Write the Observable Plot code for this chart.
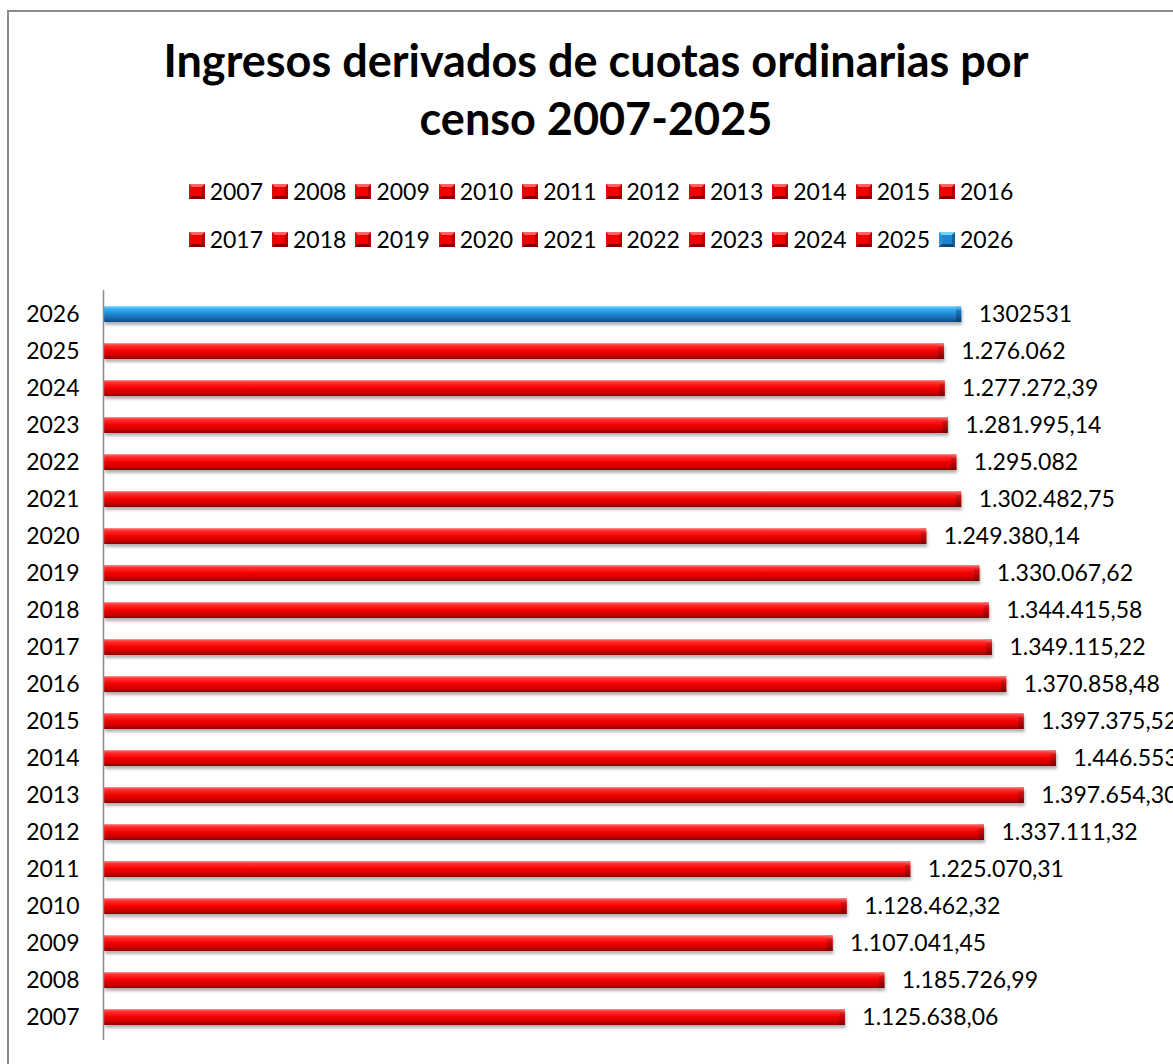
<!DOCTYPE html>
<html><head><meta charset="utf-8">
<script src="https://cdn.jsdelivr.net/npm/d3@7"></script>
<script src="https://cdn.jsdelivr.net/npm/@observablehq/plot@0.6"></script>
<style>
html,body{margin:0;padding:0;background:#fff;overflow:hidden;}
#page{position:relative;width:1173px;height:1064px;overflow:hidden;font-family:Lato, "Open Sans", sans-serif;color:#000;}
#frame{position:absolute;left:7px;top:10px;width:1400px;height:1300px;border:2px solid #8a8a8a;box-sizing:border-box;pointer-events:none;}
#title{position:absolute;left:7px;width:1178px;top:31px;text-align:center;font-weight:700;font-size:45px;line-height:58px;}
#legend{position:absolute;left:17px;width:1168px;top:167px;font-size:23px;line-height:48px;}
.row{display:flex;justify-content:center;align-items:baseline;gap:9px;height:48px;white-space:nowrap;}
.item{display:block;line-height:48px;}
.sw{display:inline-block;width:16px;height:15px;box-sizing:border-box;margin:0 5px 1px 0;vertical-align:baseline;border-style:solid;border-width:3px;}
.sw.red{background:#f20000;border-color:#ff6363 #b40000 #8a0000 #dc0a0a;}
.sw.blue{background:#1d86cf;border-color:#72d2ff #165f9c #0f4a7c #2a95d8;}
#chart{position:absolute;left:0;top:270px;}
</style>
</head>
<body>
<div id="page">
  <div id="title">Ingresos derivados de cuotas ordinarias por<br>censo 2007-2025</div>
  <div id="legend"></div>
  <div id="chart"></div>
  <div id="frame"></div>
</div>
<script>
// ---- data ----
const years = [2007, 2008, 2009, 2010, 2011, 2012, 2013, 2014, 2015, 2016, 2017, 2018, 2019, 2020, 2021, 2022, 2023, 2024, 2025, 2026];
const values = [1125638.06, 1185726.99, 1107041.45, 1128462.32, 1225070.31, 1337111.32, 1397654.30, 1446553, 1397375.52, 1370858.48, 1349115.22, 1344415.58, 1330067.62, 1249380.14, 1302482.75, 1295082, 1281995.14, 1277272.39, 1276062, 1302531];
const labels = ["1.125.638,06", "1.185.726,99", "1.107.041,45", "1.128.462,32", "1.225.070,31", "1.337.111,32", "1.397.654,30", "1.446.553", "1.397.375,52", "1.370.858,48", "1.349.115,22", "1.344.415,58", "1.330.067,62", "1.249.380,14", "1.302.482,75", "1.295.082", "1.281.995,14", "1.277.272,39", "1.276.062", "1302531"];
const highlightYear = 2026;
const legendRows = [[2007, 2008, 2009, 2010, 2011, 2012, 2013, 2014, 2015, 2016], [2017, 2018, 2019, 2020, 2021, 2022, 2023, 2024, 2025, 2026]];

const data = years.map((y, i) => ({year: String(y), value: values[i], label: labels[i]}));
const redData = data.filter(d => d.year !== String(highlightYear));
const blueData = data.filter(d => d.year === String(highlightYear));

// ---- legend ----
const legend = document.getElementById("legend");
legendRows.forEach(row => {
  const r = document.createElement("div");
  r.className = "row";
  row.forEach(y => {
    const it = document.createElement("span");
    it.className = "item";
    const sw = document.createElement("span");
    sw.className = "sw " + (y === highlightYear ? "blue" : "red");
    it.appendChild(sw);
    it.appendChild(document.createTextNode(String(y)));
    r.appendChild(it);
  });
  legend.appendChild(r);
});

// ---- chart ----
const yDomain = years.slice().reverse().map(String);
const capWidth = 8000; // bevel cap at the bar end, in data units
const svg = Plot.plot({
  width: 1173,
  height: 794,
  marginTop: 20,
  marginBottom: 24,
  marginLeft: 104,
  marginRight: 16,
  style: {fontFamily: "Lato, sans-serif", fontSize: "23px", color: "#000", background: "transparent", overflow: "visible"},
  x: {domain: [0, 1600000], axis: null},
  y: {domain: yDomain, paddingInner: 0.573, paddingOuter: 0.2865, align: 0.5, axis: null},
  marks: [
    Plot.barX(redData, {x: "value", y: "year", fill: "url(#gRed)", inset: 0}),
    Plot.barX(blueData, {x: "value", y: "year", fill: "url(#gBlue)", inset: 0}),
    Plot.barX(redData, {x1: d => d.value - capWidth, x2: "value", y: "year", fill: "url(#gRedEnd)", inset: 0}),
    Plot.barX(blueData, {x1: d => d.value - capWidth, x2: "value", y: "year", fill: "url(#gBlueEnd)", inset: 0}),
    Plot.ruleX([0], {stroke: "#8c8c8c", strokeWidth: 1.5, dx: -1}),
    Plot.axisY({tickSize: 0, tickPadding: 25, fontSize: 23, label: null, fill: "#000"}),
    Plot.text(data, {x: "value", y: "year", text: "label", textAnchor: "start", dx: 17, fontSize: 23, fill: "#000"})
  ]
});

const s = d3.select(svg);
const defs = s.insert("defs", ":first-child");
function grad(id, stops) {
  const g = defs.append("linearGradient").attr("id", id).attr("x1", 0).attr("y1", 0).attr("x2", 0).attr("y2", 1);
  stops.forEach(([o, c]) => g.append("stop").attr("offset", o).attr("stop-color", c));
}
grad("gRed", [[0, "#ffa0a0"], [0.12, "#ff3a3a"], [0.45, "#f80000"], [0.8, "#c80000"], [1, "#8a0000"]]);
grad("gBlue", [[0, "#9ae0ff"], [0.12, "#45b8f2"], [0.45, "#1f8fd8"], [0.8, "#1766a8"], [1, "#0f4a80"]]);
grad("gRedEnd", [[0, "#ff8080"], [0.3, "#d81010"], [1, "#7a0000"]]);
grad("gBlueEnd", [[0, "#80d0ff"], [0.3, "#1a78c0"], [1, "#0c3e6c"]]);
const f = defs.append("filter").attr("id", "shadow").attr("x", "-5%").attr("y", "-50%").attr("width", "110%").attr("height", "250%");
f.append("feDropShadow").attr("dx", 1).attr("dy", 3).attr("stdDeviation", 1.6).attr("flood-color", "#000").attr("flood-opacity", 0.3);
s.selectAll('g[aria-label="bar"]').filter((d, i) => i < 2).attr("filter", "url(#shadow)");

document.getElementById("chart").appendChild(svg);
</script>
</body></html>
